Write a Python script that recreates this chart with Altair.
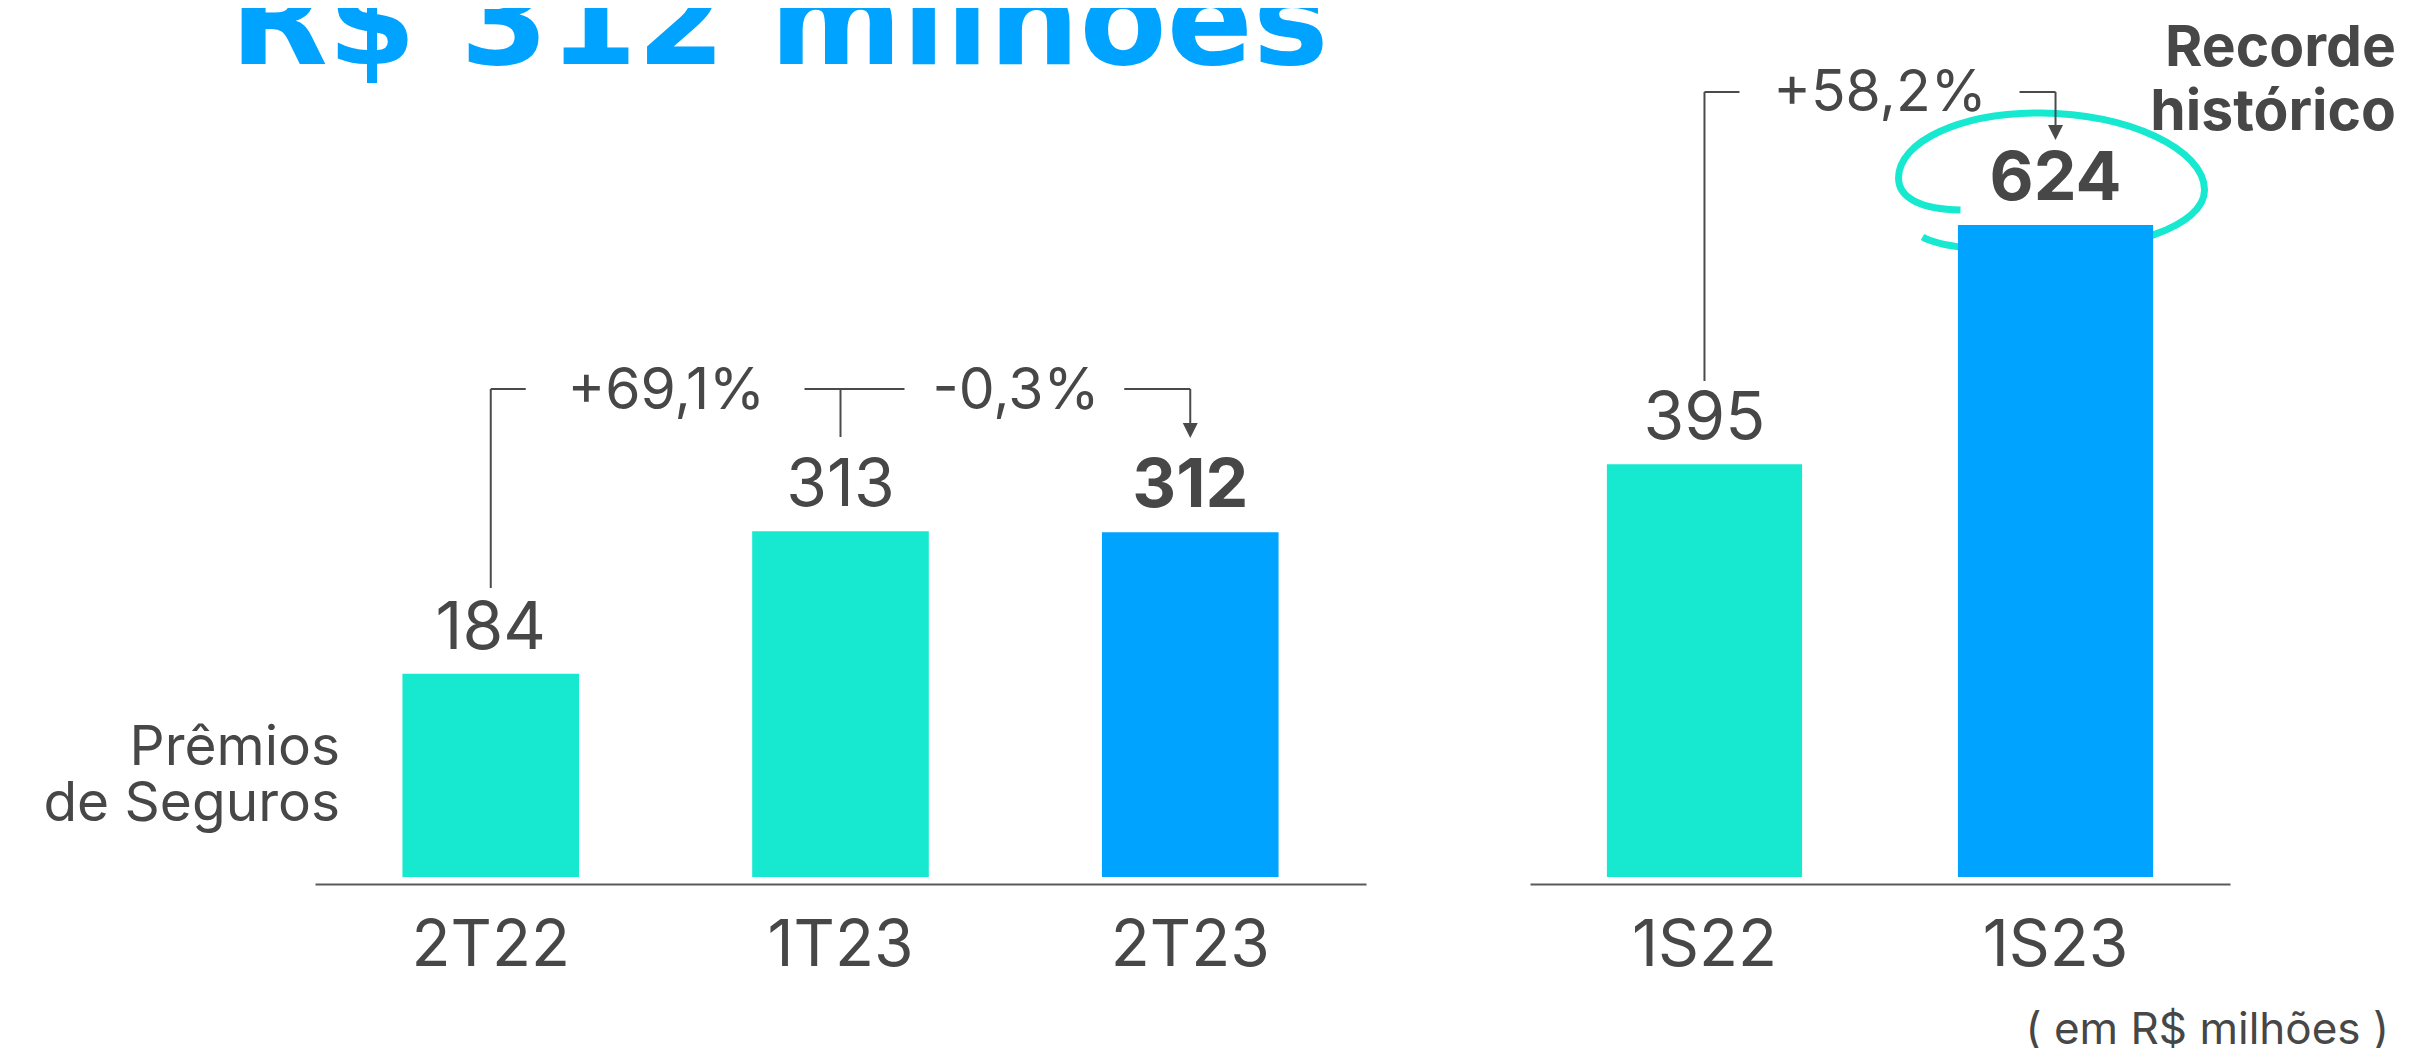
import altair as alt
import pandas as pd

# ---------------- data ----------------
quarters = ["2T22", "1T23", "2T23"]
quarter_values = [184, 313, 312]
semesters = ["1S22", "1S23"]
semester_values = [395, 624]
quarter_changes = ["+69,1%", "-0,3%"]
semester_changes = ["+58,2%"]
title_text = "R$ 312 milhões"
side_label = ["Prêmios", "de Seguros"]
record_label = ["Recorde", "histórico"]
unit_label = "( em R$ milhões )"

# ---------------- style ----------------
TEAL = "#17E9D0"
BLUE = "#00A3FF"
GREY = "#474747"
LINE = "#4a4a4a"
FONT = "Inter"
W, H = 2390, 869
K_Q = 1.105   # px per unit, quarterly panel
K_S = 1.045   # px per unit, semester panel

dfq = pd.DataFrame({"periodo": quarters, "valor": quarter_values})
dfs = pd.DataFrame({"periodo": semesters, "valor": semester_values})

axis_common = dict(orient="bottom", title=None, labelAngle=0, ticks=False, tickSize=0,
                   domainColor="#5a5a5a", domainWidth=2, offset=7, labelFontSize=64,
                   labelColor=GREY, labelFont=FONT, labelPadding=30, grid=False)

xq = alt.X("periodo:N", sort=quarters,
           scale=alt.Scale(range=[307, 1358], paddingInner=0.495, paddingOuter=0.25),
           axis=alt.Axis(**axis_common))
yq = alt.Y("valor:Q", scale=alt.Scale(domain=[0, H / K_Q], nice=False, zero=True), axis=None)

xs = alt.X("periodo:N", sort=semesters,
           scale=alt.Scale(range=[1522, 2222], paddingInner=0.444, paddingOuter=0.219),
           axis=alt.Axis(**axis_common))
ys = alt.Y("valor:Q", scale=alt.Scale(domain=[0, H / K_S], nice=False, zero=True), axis=None)


def one(cat, **extra):
    d = {"periodo": [cat]}
    for k, v in extra.items():
        d[k] = [v]
    return pd.DataFrame(d)


def hseg(cat, xenc, dx1, dx2, y):
    return alt.Chart(one(cat)).mark_rule(color=LINE, strokeWidth=2, xOffset=dx1, x2Offset=dx2).encode(
        x=xenc, x2=alt.X2("periodo"), y=alt.value(y))


def vseg(cat, xenc, y1, y2):
    return alt.Chart(one(cat)).mark_rule(color=LINE, strokeWidth=2).encode(
        x=xenc, y=alt.value(y1), y2=alt.value(y2))


ARROW = "M -1 -1 L 1 -1 L 0 1 Z"


def arrowhead(cat, xenc, yc):
    return alt.Chart(one(cat)).mark_point(shape=ARROW, size=225, filled=True, color=LINE,
                                          opacity=1).encode(x=xenc, y=alt.value(yc))


def pct(cat, xenc, label, dx, y):
    return alt.Chart(one(cat, label=label)).mark_text(
        xOffset=dx, fontSize=57, font=FONT, color=GREY, align="center", baseline="alphabetic"
    ).encode(x=xenc, y=alt.value(y), text="label:N")


# ---------------- quarterly panel ----------------
bars_q = alt.Chart(dfq).mark_bar().encode(
    x=xq, y=yq,
    color=alt.condition(alt.datum.periodo == "2T23", alt.value(BLUE), alt.value(TEAL)))
lab_q = alt.Chart(dfq).transform_filter(alt.datum.periodo != "2T23").mark_text(
    dy=-25, fontSize=66, font=FONT, color=GREY, baseline="alphabetic").encode(x=xq, y=yq, text="valor:Q")
lab_q_b = alt.Chart(dfq).transform_filter(alt.datum.periodo == "2T23").mark_text(
    dy=-25, fontSize=68, font=FONT, fontWeight="bold", color=GREY, baseline="alphabetic").encode(
    x=xq, y=yq, text="valor:Q")

left = alt.layer(
    bars_q, lab_q, lab_q_b,
    vseg("2T22", xq, 580, 381),
    hseg("2T22", xq, 0, 35, 381),
    pct("2T22", xq, quarter_changes[0], 175.5, 401),
    hseg("1T23", xq, -36, 64, 381),
    vseg("1T23", xq, 381, 429),
    pct("1T23", xq, quarter_changes[1], 175.5, 401),
    hseg("2T23", xq, -66, 0, 381),
    vseg("2T23", xq, 381, 420),
    arrowhead("2T23", xq, 422.5),
)

# ---------------- semester panel ----------------
ELLIPSE = ("M -0.595 0.196 C -0.85 0.19 -1.0 0.12 -1.0 -0.013 "
           "C -1.0 -0.25 -0.6 -0.44 -0.07 -0.438 "
           "C 0.5 -0.436 1.0 -0.2 1.0 0.065 "
           "C 1.0 0.3 0.5 0.47 -0.1 0.47 "
           "C -0.45 0.47 -0.75 0.43 -0.843 0.373")
ellipse = alt.Chart(one("1S23")).mark_point(
    shape=ELLIPSE, size=306 * 306, filled=False, stroke=TEAL, color=TEAL, strokeWidth=7,
    opacity=1, xOffset=-4).encode(x=xs, y=alt.value(172))

bars_s = alt.Chart(dfs).mark_bar().encode(
    x=xs, y=ys,
    color=alt.condition(alt.datum.periodo == "1S23", alt.value(BLUE), alt.value(TEAL)))
lab_s = alt.Chart(dfs).transform_filter(alt.datum.periodo != "1S23").mark_text(
    dy=-25, fontSize=66, font=FONT, color=GREY, baseline="alphabetic").encode(x=xs, y=ys, text="valor:Q")
lab_s_b = alt.Chart(dfs).transform_filter(alt.datum.periodo == "1S23").mark_text(
    dy=-25, fontSize=68, font=FONT, fontWeight="bold", color=GREY, baseline="alphabetic").encode(
    x=xs, y=ys, text="valor:Q")

right = alt.layer(
    ellipse, bars_s, lab_s, lab_s_b,
    vseg("1S22", xs, 373, 84),
    hseg("1S22", xs, 0, 35, 84),
    pct("1S22", xs, semester_changes[0], 175.5, 103),
    hseg("1S23", xs, -36, 0, 84),
    vseg("1S23", xs, 84, 122),
    arrowhead("1S23", xs, 124.5),
)

# ---------------- free text ----------------
dummy = pd.DataFrame({"a": [0]})
title = alt.Chart(dummy).mark_text(
    text=title_text, font="DejaVu Sans", fontWeight="bold", fontSize=127, color=BLUE,
    align="left", baseline="alphabetic").encode(x=alt.value(222), y=alt.value(56))
side = alt.Chart(dummy).mark_text(
    text=side_label, font=FONT, fontSize=55, color=GREY, align="right", baseline="alphabetic",
    lineHeight=56).encode(x=alt.value(332), y=alt.value(757))
record = alt.Chart(dummy).mark_text(
    text=record_label, font=FONT, fontWeight="bold", fontSize=57, color=GREY, align="right",
    baseline="alphabetic", lineHeight=64).encode(x=alt.value(2388), y=alt.value(58))
unit = alt.Chart(dummy).mark_text(
    text=unit_label, font=FONT, fontSize=44, color=GREY, align="right",
    baseline="alphabetic").encode(x=alt.value(2381), y=alt.value(1036))

free = alt.layer(title, side, record, unit)

chart = alt.layer(left, right, free).resolve_scale(
    x="independent", y="independent"
).resolve_axis(x="independent").properties(
    width=W, height=H,
    autosize=alt.AutoSizeParams(type="none"),
    padding={"left": 0, "top": 0, "right": 0, "bottom": 171},
    background="white",
).configure_view(stroke=None)

chart.save("out.html", embed_options={"renderer": "svg", "actions": False})
